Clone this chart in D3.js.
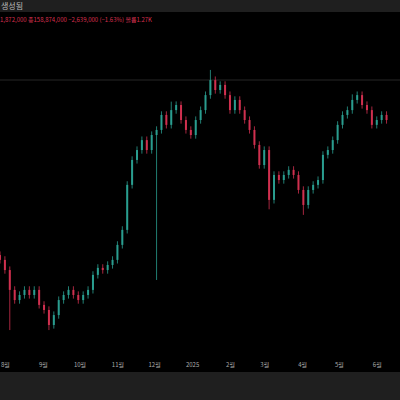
<!DOCTYPE html>
<html><head><meta charset="utf-8">
<script src="https://cdn.jsdelivr.net/npm/d3@7"></script>
<style>body{margin:0;background:#000}svg{display:block}</style>
</head><body>
<script>
const startDate = "2024-07-28";
const stepDays = 4;
const closes = [101.1,96.9,88.7,84.5,86.6,88.7,86.6,88.7,82.5,80.4,74.2,78.3,84.5,86.6,88.7,86.6,84.5,86.6,88.7,94.9,
97.8,96.9,99.0,101.1,107.3,113.5,132.1,142.4,146.5,150.6,146.5,152.7,154.8,161.0,156.9,163.0,165.1,158.9,154.8,152.7,
158.9,163.0,169.2,175.4,171.3,173.4,169.2,163.0,167.2,163.0,158.9,154.8,148.6,140.3,146.5,125.9,136.2,134.1,136.2,138.3,
136.2,130.0,123.8,130.0,132.1,134.1,144.5,146.5,150.6,156.9,161.0,163.0,167.2,169.2,165.1,163.0,156.9,158.9,161.0,158.9];
const lowOverrides = {2:72.1,10:72.1,32:92.8,62:119.7,55:122.0};
const highOverrides = {43:179.6,35:166.5,72:169.5};
const tickDates = ["2024-08-01","2024-09-01","2024-10-01","2024-11-01","2024-12-01","2025-01-01","2025-02-01","2025-03-01","2025-04-01","2025-05-01","2025-06-01"];
const tickLabels = ["8월","9월","10월","11월","12월","2025","2월","3월","4월","5월","6월"];

const W=400,H=400;
const svg=d3.select("body").append("svg").attr("width",W).attr("height",H);
svg.append("rect").attr("width",W).attr("height",H).attr("fill","#000");
svg.append("rect").attr("width",W).attr("height",12).attr("fill","#1f1f1f");
svg.append("text").attr("x",1).attr("y",9).attr("fill","#bbb").attr("font-size",8).attr("font-family","Noto Sans CJK KR").text("생성됨");
svg.append("text").attr("x",0).attr("y",22).attr("fill","#d8304f").attr("font-size",6).attr("font-family","Noto Sans CJK KR")
  .text("1,872,000  종158,874,000  −2,639,000 (−1.63%)  볼륨1.27K");
svg.append("line").attr("x1",0).attr("x2",W).attr("y1",80).attr("y2",80).attr("stroke","#262626");

const parse=d3.timeParse("%Y-%m-%d");
const t0=parse(startDate);
const data=closes.map((c,i)=>{
  const o=i?closes[i-1]:c+2;
  return {d:d3.timeDay.offset(t0,i*stepDays),o,c,
    h:highOverrides[i]??Math.max(o,c)+1.5,
    l:lowOverrides[i]??Math.min(o,c)-1.5};
});
const x=d3.scaleTime().domain([t0,parse("2025-06-20")]).range([0,400]);
const y=d3.scaleLinear().domain([208.5,43.2]).range([0,400]);
const up="#2a9d8f",dn="#d0304f";
const g=svg.append("g");
const cs=g.selectAll("g").data(data).join("g");
cs.append("line").attr("x1",d=>x(d.d)).attr("x2",d=>x(d.d)).attr("y1",d=>y(d.h)).attr("y2",d=>y(d.l))
  .attr("stroke",d=>d.c>=d.o?up:dn).attr("stroke-width",0.8);
cs.append("rect").attr("x",d=>x(d.d)-1).attr("width",2)
  .attr("y",d=>y(Math.max(d.o,d.c))).attr("height",d=>Math.max(0.8,Math.abs(y(d.o)-y(d.c))))
  .attr("fill",d=>d.c>=d.o?up:dn);

svg.append("rect").attr("y",372).attr("width",W).attr("height",28).attr("fill","#1f1f1f");
const ax=d3.axisBottom(x).tickValues(tickDates.map(parse)).tickFormat((d,i)=>tickLabels[i]).tickSize(0);
const axg=svg.append("g").attr("transform","translate(0,360)").call(ax);
axg.select(".domain").remove();
axg.selectAll("text").attr("fill","#aaa").attr("font-size",6).attr("font-family","Noto Sans CJK KR");
</script>
</body></html>
